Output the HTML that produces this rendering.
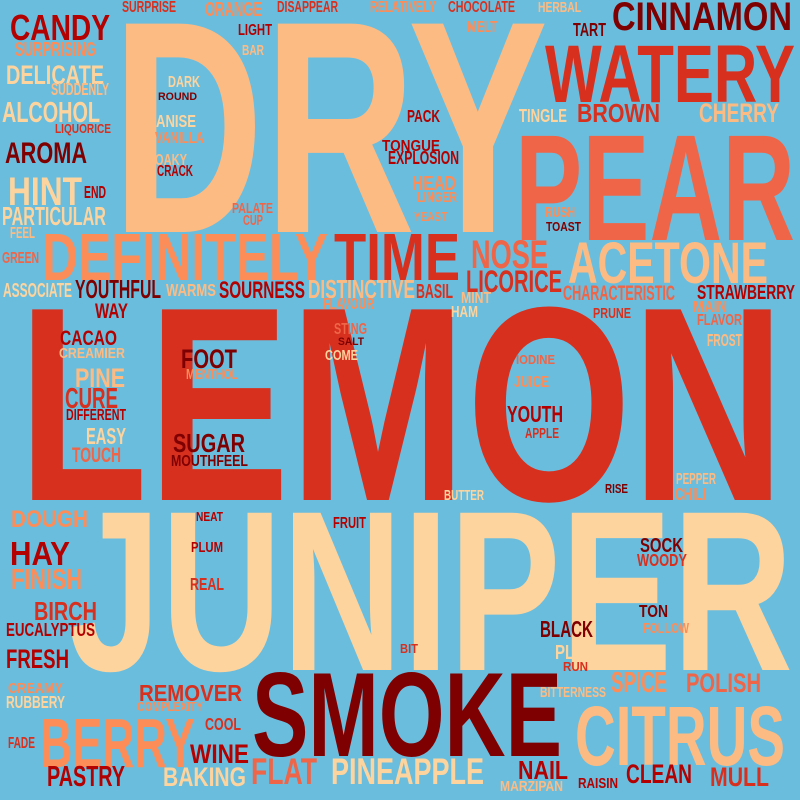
<!DOCTYPE html>
<html>
<head>
<meta charset="utf-8">
<style>
html,body{margin:0;padding:0;background:#6bbddd;}
svg{display:block;}
text{font-family:"Liberation Sans Narrow","Liberation Sans",sans-serif;font-weight:bold;}
</style>
</head>
<body>
<svg id="cloud" width="800" height="800" viewBox="0 0 800 800" xmlns="http://www.w3.org/2000/svg">
<rect x="0" y="0" width="800" height="800" fill="#6bbddd"/>
</svg>
<script>
var A="#7f0000",B="#b30000",C="#d7301f",D="#ef6548",E="#fc8d59",F="#fdbb84",G="#fdd49e";
// word, x-left, x-right, cap-top, baseline, color
var words=[
["DRY",112,548,20,232,F],
["LEMON",18,785,306,500,C],
["JUNIPER",68,793,510,670,G],
["PEAR",515,795,134,240,D],
["WATERY",545,795,45,102,C],
["CINNAMON",612,792,2,30,A],
["SMOKE",252,562,672,756,A],
["CITRUS",575,785,706,765,F],
["BERRY",40,195,718,767,E],
["DEFINITELY",42,328,233,280,E],
["TIME",334,460,233,280,C],
["ACETONE",568,768,242,283,F],
["NOSE",471,548,240,268,D],
["LICORICE",466,562,270,292,C],
["CHARACTERISTIC",563,675,285,300,D],
["STRAWBERRY",697,795,285,299,B],
["CANDY",10,110,15,40,B],
["SURPRISING",15,96,42,56,E],
["DELICATE",6,104,65,84,G],
["SUDDENLY",51,109,83,95,F],
["ALCOHOL",2,100,102,122,G],
["LIQUORICE",55,111,124,133,C],
["AROMA",5,87,142,163,A],
["HINT",8,82,177,205,G],
["END",84,106,186,198,B],
["PARTICULAR",2,106,207,225,G],
["FEEL",10,35,227,238,F],
["GREEN",2,39,252,263,D],
["ASSOCIATE",3,72,283,297,G],
["YOUTHFUL",75,161,280,298,A],
["WARMS",166,216,284,296,F],
["SOURNESS",219,305,281,298,B],
["DISTINCTIVE",308,415,280,298,F],
["FLAVOUR",323,374,298,309,E],
["WAY",95,128,303,318,B],
["CACAO",60,117,330,345,B],
["CREAMIER",59,125,348,358,F],
["PINE",75,125,368,387,F],
["CURE",65,118,388,408,C],
["DIFFERENT",66,126,409,420,B],
["EASY",86,126,428,444,G],
["TOUCH",72,121,447,462,D],
["FOOT",181,237,349,368,A],
["MENTHOL",186,238,369,379,E],
["SUGAR",173,245,434,452,A],
["MOUTHFEEL",171,248,455,466,A],
["STING",334,367,323,334,D],
["SALT",338,364,337,345,A],
["COME",325,358,350,360,G],
["IODINE",516,555,355,364,D],
["JUICE",514,549,376,387,E],
["YOUTH",507,563,406,422,B],
["APPLE",525,559,428,438,C],
["BASIL",416,453,284,298,C],
["MINT",461,491,292,303,F],
["HAM",451,478,306,317,G],
["PRUNE",593,631,308,318,C],
["MAIN",693,727,301,312,E],
["FLAVOR",697,742,314,325,D],
["FROST",707,742,334,346,F],
["PEPPER",676,716,473,484,F],
["CHILI",675,706,488,500,E],
["RISE",605,628,484,493,A],
["BUTTER",444,484,490,500,G],
["SURPRISE",122,176,1,12,C],
["ORANGE",205,262,2,16,E],
["DISAPPEAR",277,338,1,12,C],
["RELATIVELY",370,436,1,12,E],
["CHOCOLATE",448,515,1,12,C],
["HERBAL",538,581,2,12,F],
["MELT",467,497,21,32,E],
["TART",573,606,23,36,A],
["LIGHT",238,272,24,35,B],
["BAR",242,264,45,55,F],
["DARK",168,200,76,87,G],
["ROUND",158,197,92,100,A],
["ANISE",156,196,115,127,G],
["VANILLA",155,204,132,143,E],
["OAKY",155,187,154,165,F],
["CRACK",157,193,165,176,B],
["PALATE",232,273,203,213,D],
["CUP",243,263,215,225,D],
["PACK",407,440,110,122,B],
["TINGLE",519,567,109,122,G],
["BROWN",577,660,104,122,C],
["CHERRY",699,779,103,122,F],
["TONGUE",382,440,140,151,B],
["EXPLOSION",388,459,151,164,B],
["HEAD",412,456,176,190,E],
["LINGER",417,457,192,202,E],
["YEAST",414,447,212,221,E],
["RUSH",545,575,207,217,E],
["TOAST",546,581,222,231,A],
["DOUGH",11,88,510,527,E],
["NEAT",196,223,512,521,B],
["FRUIT",333,366,517,528,B],
["PLUM",191,223,542,552,B],
["HAY",10,70,542,565,B],
["FINISH",11,82,569,589,E],
["REAL",190,224,578,590,C],
["BIRCH",34,97,602,620,C],
["EUCALYPTUS",6,95,623,636,B],
["FRESH",6,69,649,668,B],
["CREAMY",8,63,683,693,E],
["RUBBERY",6,65,696,708,G],
["REMOVER",139,242,685,701,C],
["COMPLEXITY",137,203,702,711,E],
["COOL",205,241,718,730,C],
["FADE",8,35,737,748,C],
["WINE",190,249,744,763,B],
["PASTRY",47,125,766,786,B],
["BAKING",163,246,767,786,G],
["FLAT",251,317,758,784,D],
["PINEAPPLE",331,484,758,784,G],
["SOCK",640,683,538,552,A],
["WOODY",637,687,554,566,C],
["TON",639,668,605,617,A],
["FOLLOW",643,689,623,633,E],
["BLACK",540,593,621,637,A],
["PLUS",555,595,645,659,G],
["RUN",563,588,662,671,C],
["BIT",400,418,644,653,C],
["SPICE",611,667,672,692,E],
["POLISH",686,761,673,692,D],
["BITTERNESS",540,606,687,697,F],
["NAIL",518,568,761,779,B],
["CLEAN",626,692,764,783,B],
["MULL",710,769,767,786,C],
["RAISIN",578,618,778,788,B],
["MARZIPAN",500,563,781,791,F]
];
var svg=document.getElementById("cloud");
var NS="http://www.w3.org/2000/svg";
for(var i=0;i<words.length;i++){
  var w=words[i];
  var t=document.createElementNS(NS,"text");
  var fs=(w[4]-w[3])/0.70;
  t.setAttribute("x",w[1]);
  t.setAttribute("y",w[4]);
  t.setAttribute("font-size",fs.toFixed(1));
  t.setAttribute("fill",w[5]);
  t.setAttribute("textLength",w[2]-w[1]);
  t.setAttribute("lengthAdjust","spacingAndGlyphs");
  t.textContent=w[0];
  
  
  svg.appendChild(t);
}
</script>
</body>
</html>
